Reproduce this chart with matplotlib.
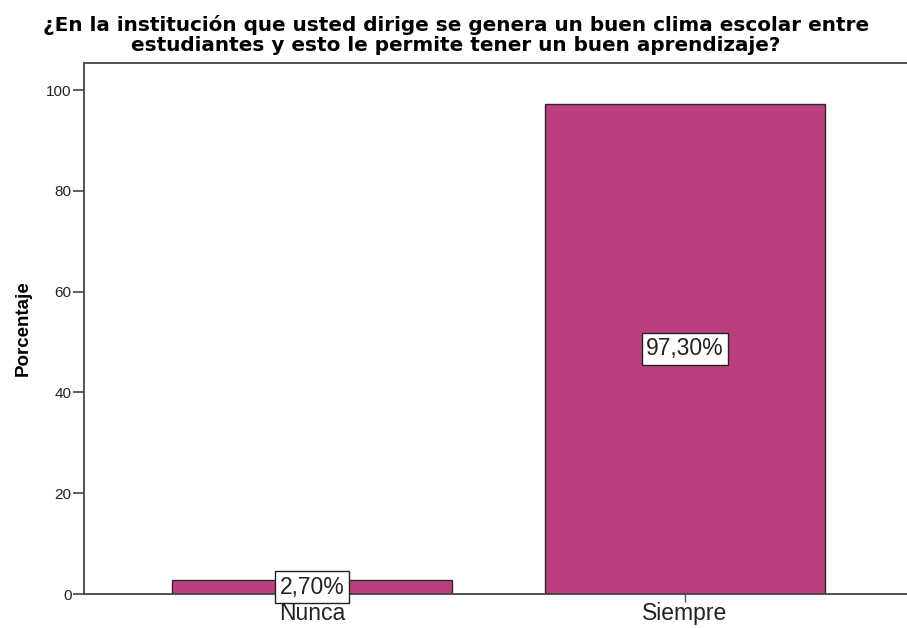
import matplotlib
matplotlib.use("Agg")
import matplotlib.pyplot as plt

categories = ["Nunca", "Siempre"]
values = [2.70, 97.30]
labels = ["2,70%", "97,30%"]
yticks = [0, 20, 40, 60, 80, 100]
title_lines = ["¿En la institución que usted dirige se genera un buen clima escolar entre",
               "estudiantes y esto le permite tener un buen aprendizaje?"]

plt.rcParams['font.family'] = ['Liberation Sans', 'DejaVu Sans']

fig = plt.figure(figsize=(9.07, 6.28), dpi=100)
ax = fig.add_axes([84/907, 1 - 594/628, 1 - 84/907 + 0.002, (594 - 63)/628])

x = list(range(len(categories)))
ax.bar(x, values, width=0.752, color="#BA3F7C", edgecolor="#2a2a2a", linewidth=1.0, zorder=2)

for xi, v, lab in zip(x, values, labels):
    ax.text(xi, v / 2, lab, ha="center", va="center", fontsize=16.5, color="#222222", zorder=3,
            bbox=dict(boxstyle="square,pad=0.2", facecolor="white", edgecolor="#222222", linewidth=1.0))

ax.set_xlim(-0.611, 1.60)
ax.set_ylim(0, 105.4)
ax.set_xticks(x)
ax.set_xticklabels(categories, fontsize=16.5, color="#222222")
ax.set_yticks(yticks)
ax.set_yticklabels([str(t) for t in yticks], fontsize=11, color="#222222")
ax.tick_params(axis="x", length=6, width=1.0, color="#555555", pad=0)
ax.tick_params(axis="y", length=8, width=1.2, color="#444444", pad=1)

for s in ["left", "top", "bottom"]:
    ax.spines[s].set_color("#444444")
    ax.spines[s].set_linewidth(1.3)
ax.spines["right"].set_visible(False)

ax.set_ylabel("Porcentaje", fontsize=13.5, fontweight="bold", labelpad=10)

fig.text(456/907, 1 - 31/628, title_lines[0], ha="center", va="baseline",
         fontsize=14.4, fontweight="bold", family="DejaVu Sans")
fig.text(456/907, 1 - 51/628, title_lines[1], ha="center", va="baseline",
         fontsize=14.4, fontweight="bold", family="DejaVu Sans")

fig.savefig("out.png", dpi=100)
